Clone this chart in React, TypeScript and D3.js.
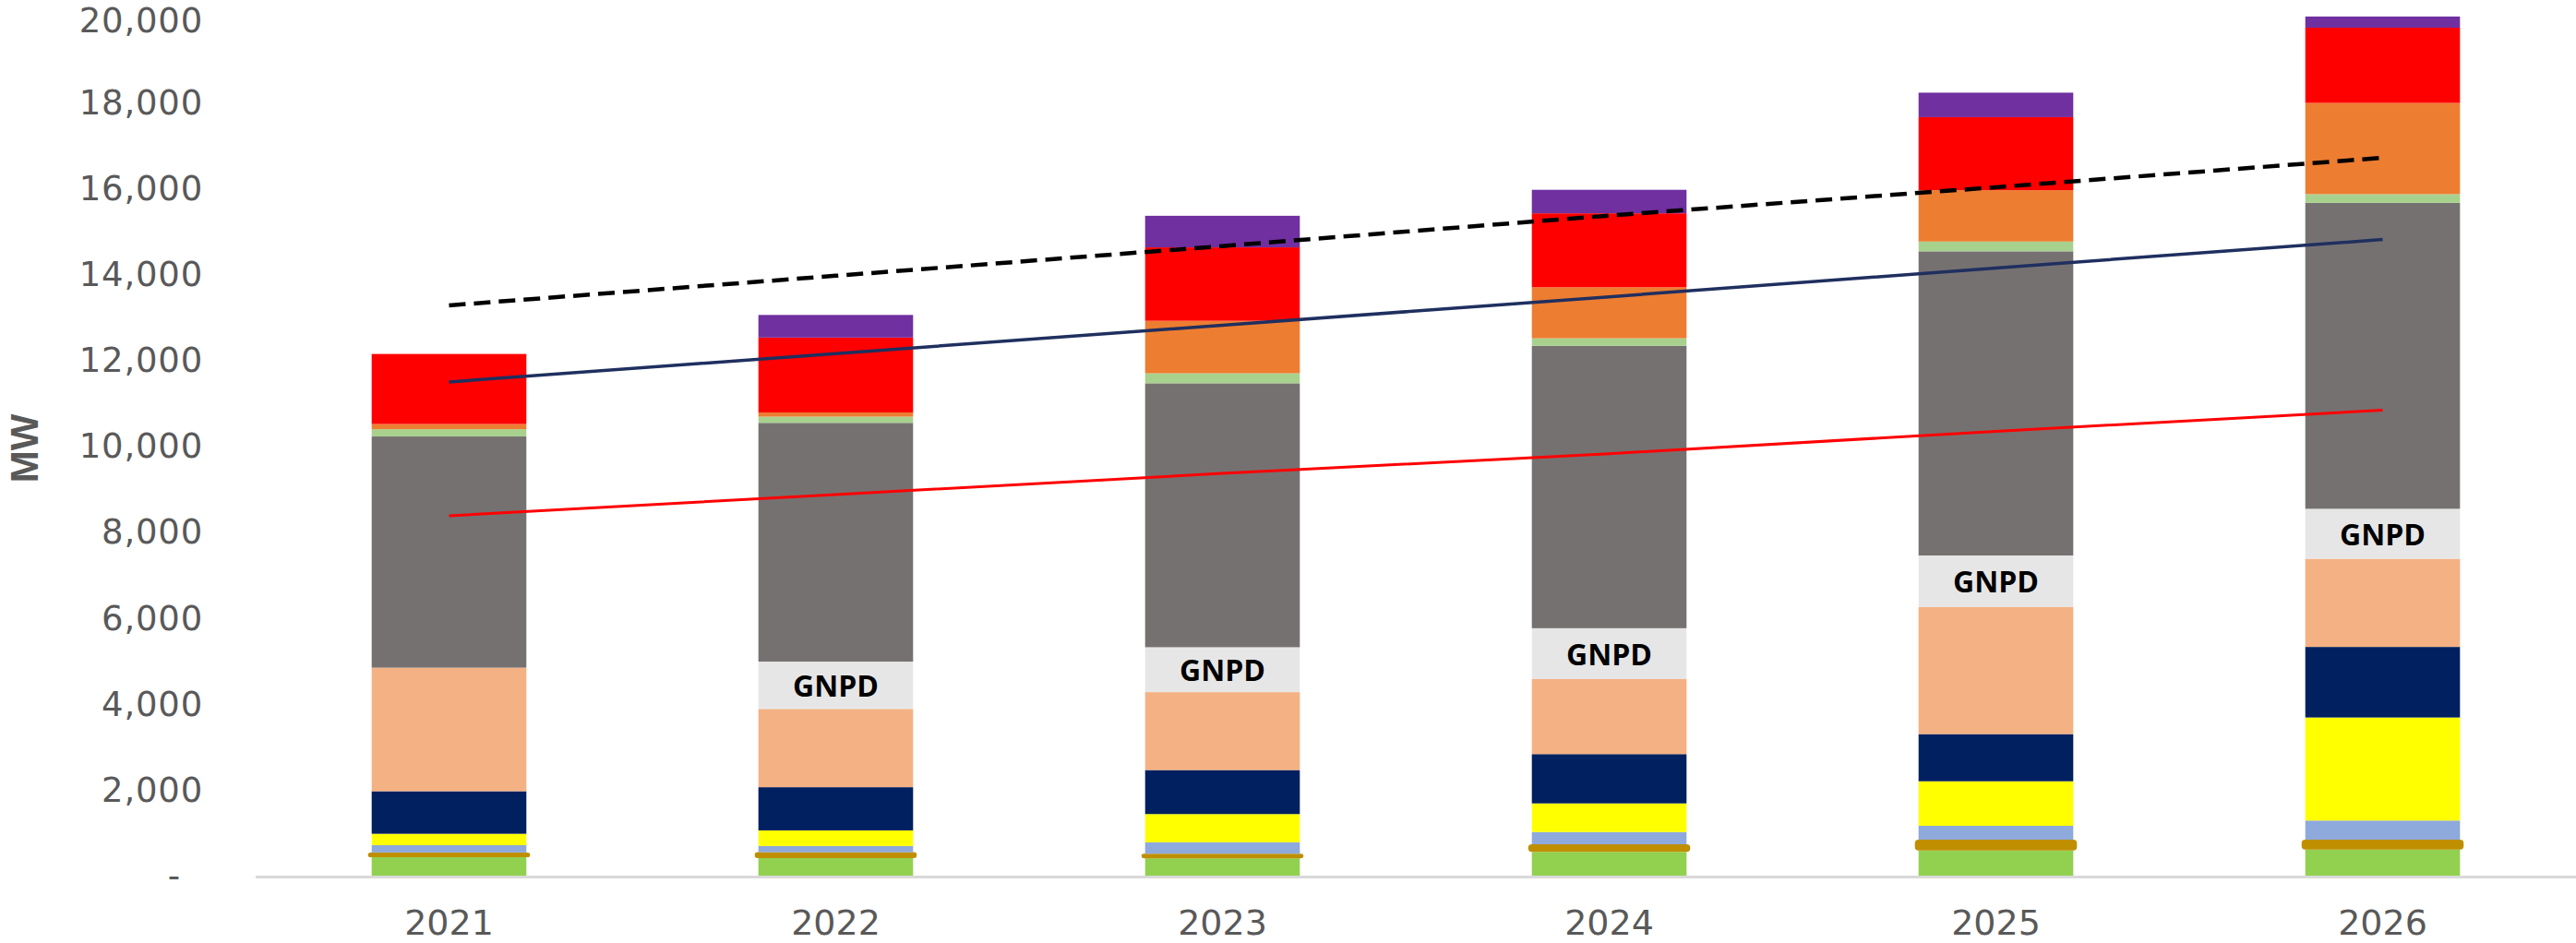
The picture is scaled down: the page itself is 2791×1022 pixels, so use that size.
import React from "react";
import * as d3 from "d3";

const years = ["2021", "2022", "2023", "2024", "2025", "2026"];
const yTicks = [0, 2000, 4000, 6000, 8000, 10000, 12000, 14000, 16000, 18000, 20000];

// stacked segments, bottom to top (MW)
const greenBase = [440, 420, 415, 563, 597, 618];
const brownBand = [110, 136, 107, 177, 251, 230];
const lightBlue = [170, 144, 265, 286, 322, 445];
const yellow = [265, 364, 657, 666, 1037, 2398];
const navy = [990, 1005, 1024, 1147, 1098, 1642];
const peach = [2875, 1821, 1813, 1745, 2959, 2051];
const gnpd = [0, 1101, 1045, 1184, 1197, 1163];
const gray = [5380, 5556, 6142, 6571, 7078, 7118];
const lightGreen = [170, 144, 232, 176, 227, 204];
const orange = [120, 97, 1222, 1187, 1195, 2122];
const red = [1630, 1744, 1709, 1721, 1700, 1751];
const purple = [0, 526, 734, 547, 569, 260];

// lines (MW)
const dashedLine = [13280, 13970, 14660, 15370, 16030, 16715];
const navyLine = [11500, 12160, 12820, 13480, 14150, 14813];
const redLine = [8384, 8880, 9370, 9830, 10350, 10843];

const seriesKeys = [
  "greenBase", "brownBand", "lightBlue", "yellow", "navy", "peach",
  "gnpd", "gray", "lightGreen", "orange", "red", "purple",
];
const seriesValues: Record<string, number[]> = {
  greenBase, brownBand, lightBlue, yellow, navy, peach,
  gnpd, gray, lightGreen, orange, red, purple,
};
const seriesColors: Record<string, string> = {
  greenBase: "#92D050",
  brownBand: "#BF8F00",
  lightBlue: "#8EA9DB",
  yellow: "#FFFF00",
  navy: "#002060",
  peach: "#F4B183",
  gnpd: "#E7E6E6",
  gray: "#767171",
  lightGreen: "#A9D18E",
  orange: "#ED7D31",
  red: "#FF0000",
  purple: "#7030A0",
};

const W = 2791;
const H = 1022;

export default function App() {
  const x = d3.scaleBand<string>().domain(years).range([277, 2791]).paddingInner(0.6).paddingOuter(0.3);
  const y = d3.scaleLinear().domain([0, 20000]).range([949.5, 18]);

  const table = years.map((yr, i) => {
    const row: any = { year: yr };
    seriesKeys.forEach((k) => (row[k] = seriesValues[k][i]));
    return row;
  });
  const stacked = d3.stack<any>().keys(seriesKeys)(table);

  const cx = (yr: string) => (x(yr) as number) + x.bandwidth() / 2;
  const mkLine = (vals: number[]) =>
    d3.line<number>().x((_, i) => cx(years[i])).y((v) => y(v))(vals) as string;

  const fmt = (v: number) => (v === 0 ? "-" : d3.format(",")(v));
  const axisFont = "'DejaVu Sans', Verdana, sans-serif";

  return (
    <div style={{ position: "absolute", left: 0, top: 0, width: W, height: H, background: "#fff" }}>
      <svg width={W} height={H} style={{ display: "block" }}>
        <rect x={0} y={0} width={W} height={H} fill="#fff" />
        {/* y tick labels */}
        {yTicks.map((t) => (
          <text
            key={t}
            x={t === 0 ? 196 : 220}
            y={y(t) + (t === 20000 ? 4 : 0)}
            textAnchor="end"
            dominantBaseline="central"
            fontFamily={axisFont}
            fontSize={37}
            letterSpacing={0.8}
            fill="#595959"
          >
            {fmt(t)}
          </text>
        ))}
        <text
          transform={`translate(41,486) rotate(-90)`}
          textAnchor="middle"
          fontFamily="'Liberation Sans', Arial, sans-serif"
          fontWeight="bold"
          fontSize={42}
          fill="#595959"
        >
          MW
        </text>
        {/* bars */}
        {stacked.map((s) => (
          <g key={s.key}>
            {s.map((d, i) => {
              const h = y(d[0]) - y(d[1]);
              if (h <= 0) return null;
              const isBrown = s.key === "brownBand";
              const bx = (x(years[i]) as number) - (isBrown ? 4 : 0);
              const bw = x.bandwidth() + (isBrown ? 8 : 0);
              return (
                <rect
                  key={i}
                  x={bx}
                  y={y(d[1])}
                  width={bw}
                  height={h}
                  rx={isBrown ? Math.min(h / 2, 4) : 0}
                  fill={seriesColors[s.key]}
                />
              );
            })}
          </g>
        ))}
        {/* GNPD labels */}
        {stacked
          .filter((s) => s.key === "gnpd")
          .map((s) =>
            s.map((d, i) =>
              d[1] - d[0] > 0 ? (
                <text
                  key={i}
                  x={cx(years[i])}
                  y={(y(d[0]) + y(d[1])) / 2}
                  textAnchor="middle"
                  dominantBaseline="central"
                  fontFamily="'Open Sans', sans-serif"
                  fontWeight="bold"
                  fontSize={32}
                  fill="#000"
                >
                  GNPD
                </text>
              ) : null
            )
          )}
        {/* x axis line */}
        <line x1={277} x2={W} y1={950.5} y2={950.5} stroke="#D9D9D9" strokeWidth={3} />
        {/* x labels */}
        {years.map((yr) => (
          <text
            key={yr}
            x={cx(yr)}
            y={1013}
            textAnchor="middle"
            fontFamily={axisFont}
            fontSize={38}
            fill="#595959"
          >
            {yr}
          </text>
        ))}
        {/* lines */}
        <path d={mkLine(redLine)} fill="none" stroke="#FF0000" strokeWidth={3} />
        <path d={mkLine(navyLine)} fill="none" stroke="#1F2F5F" strokeWidth={3.5} />
        <path d={mkLine(dashedLine)} fill="none" stroke="#000" strokeWidth={4.5} strokeDasharray="18 9" />
      </svg>
    </div>
  );
}
